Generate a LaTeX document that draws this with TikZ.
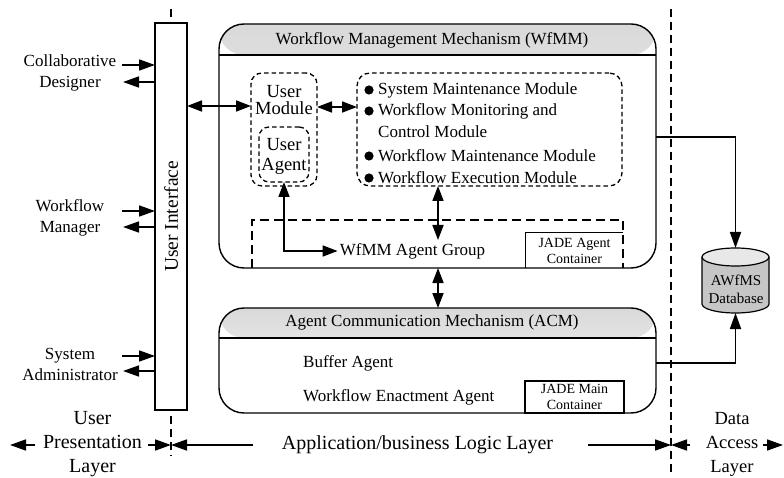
\documentclass[tikz,border=0pt]{standalone}
\usepackage{fontspec}
\setmainfont{Liberation Serif}
\usetikzlibrary{arrows.meta}
\begin{document}
\begin{tikzpicture}[x=1pt,y=-1pt,
  box/.style={draw, line width=1.4pt, outer sep=0pt, inner sep=0pt},
  dbox/.style={draw, line width=1.3pt, dash pattern=on 4.5pt off 3pt, rounded corners=11pt, outer sep=0pt, inner sep=0pt},
  agdash/.style={line width=1.4pt, dash pattern=on 9pt off 5pt},
  sepline/.style={line width=1.2pt, dash pattern=on 8pt off 5pt},
  arr/.style={line width=1.7pt, -{Triangle[length=16pt,width=11pt]}},
  darr/.style={line width=1.7pt, {Triangle[length=15pt,width=11pt]}-{Triangle[length=15pt,width=11pt]}},
  lbl/.style={align=center, font=\fontsize{17}{21}\selectfont, inner sep=0pt},
  txt/.style={font=\fontsize{17}{20}\selectfont, inner sep=0pt},
  small/.style={font=\fontsize{14}{16}\selectfont, align=center, inner sep=0pt},
  lay/.style={align=center, font=\fontsize{20}{24}\selectfont, inner sep=0pt},
  titleshade/.style={path picture={\shade[top color=gray!30, bottom color=white]
      (path picture bounding box.north west) rectangle ([yshift=-#1]path picture bounding box.north east);}}
]
\useasboundingbox (0,0) rectangle (784,478);

% ---------- User Interface ----------
\node[box, minimum width=32pt, minimum height=387pt] (ui) at (171,216.5) {};
\node[rotate=90, font=\fontsize{19.5}{22}\selectfont, inner sep=0pt] (uit) at (ui.center) {User Interface};

% ---------- left actors ----------
\node[lbl] (cd) at (70,72.5) {Collaborative\\Designer};
\node[lbl] (wm) at (70,218) {Workflow\\Manager};
\node[lbl] (sa) at (70,364) {System\\Administrator};

\coordinate (cdi) at (122,65);  \coordinate (cdo) at (123,82);
\coordinate (wmi) at (122,211); \coordinate (wmo) at (123,227);
\coordinate (sai) at (122,356); \coordinate (sao) at (123,371);
\draw[arr] (cdi) -- (cdi -| ui.west);
\draw[arr] (cdo -| ui.west) -- (cdo);
\draw[arr] (wmi) -- (wmi -| ui.west);
\draw[arr] (wmo -| ui.west) -- (wmo);
\draw[arr] (sai) -- (sai -| ui.west);
\draw[arr] (sao -| ui.west) -- (sao);

% ---------- WfMM ----------
\node[box, rounded corners=25pt, minimum width=437pt, minimum height=244pt, titleshade=31pt] (wf) at (437.5,146) {};
\draw[line width=1.4pt] ([yshift=-31pt]wf.north west) -- ([yshift=-31pt]wf.north east);
\node[txt] (wft) at (432,40) {Workflow Management Mechanism (WfMM)};

\node[dbox, minimum width=66pt, minimum height=113pt] (um) at (284,129.5) {};
\node[lbl, font=\fontsize{18.5}{17.5}\selectfont] (umt) at (284,100) {User\\Module};
\node[dbox, minimum width=50pt, minimum height=55pt, rounded corners=10pt] (ua) at (284,154.5) {};
\node[lbl, font=\fontsize{18.5}{19.5}\selectfont] (uat) at (284,156.5) {User\\Agent};

\node[dbox, minimum width=265pt, minimum height=113pt, rounded corners=13pt] (mods) at (489.5,129.5) {};
\foreach \yy in {90,111,156,178} {\fill (369,\yy) circle (4.6pt);}
\node[txt, anchor=west] (m1) at (378,90) {System Maintenance Module};
\node[txt, anchor=west] (m2) at (378,111) {Workflow Monitoring and};
\node[txt, anchor=west] (m3) at (378,132) {Control Module};
\node[txt, anchor=west] (m4) at (378,156) {Workflow Maintenance Module};
\node[txt, anchor=west] (m5) at (378,178) {Workflow Execution Module};

\coordinate (y106) at (0,106);
\draw[darr] (ui.east |- y106) -- (um.west |- y106);
\coordinate (y107) at (0,107);
\draw[darr] (um.east |- y107) -- (mods.west |- y107);

% agent group
\node[minimum width=371pt, minimum height=48pt, inner sep=0pt, outer sep=0pt] (agbox) at (437.5,244) {};
\draw[agdash] (agbox.south west) -- (agbox.north west) -- (agbox.north east) -- (agbox.south east);
\node[font=\fontsize{17}{19}\selectfont, inner sep=2pt] (ag) at (412.5,251) {WfMM Agent Group};
\draw[darr] (ua.south) |- (ag.west);
\coordinate (agtop) at (438,240);
\draw[darr] (mods.south -| agtop) -- (agtop);

\node[small, minimum width=97pt, minimum height=35pt] (jac) at (574.5,250.5) {JADE Agent\\Container};
\draw[line width=1.2pt] (jac.south west) -- (jac.north west) -- (jac.north east);

% ---------- ACM ----------
\node[box, rounded corners=25pt, minimum width=437pt, minimum height=105pt, titleshade=30pt] (acm) at (437.5,360.5) {};
\draw[line width=1.4pt] ([yshift=-30pt]acm.north west) -- ([yshift=-30pt]acm.north east);
\node[txt] (acmt) at (432,322) {Agent Communication Mechanism (ACM)};
\node[txt, anchor=west] (ba) at (303,363) {Buffer Agent};
\node[txt, anchor=west] (wea) at (303,397) {Workflow Enactment Agent};
\node[small, draw, line width=1.2pt, minimum width=99pt, minimum height=32pt] (jmc) at (574.5,397) {JADE Main\\Container};

\draw[darr] (wf.south -| agtop) -- (acm.north -| agtop);

% ---------- Database (cylinder drawn around node db) ----------
\node[minimum width=67pt, minimum height=65pt, inner sep=0pt, outer sep=0pt] (db) at (735.5,280.5) {};
\fill[gray!45] (702,257) -- (702,304) arc[start angle=180, end angle=360, x radius=33.5pt, y radius=9pt] -- (769,257) -- cycle;
\draw[line width=1.2pt] (702,257) -- (702,304) arc[start angle=180, end angle=360, x radius=33.5pt, y radius=9pt] -- (769,257);
\filldraw[fill=gray!18, line width=1.2pt] (735.5,257) ellipse [x radius=33.5pt, y radius=9pt];
\node[small, font=\fontsize{15}{18}\selectfont] (dbt) at (736,289) {AWfMS\\Database};

\coordinate (y137) at (0,137);
\draw[arr] (wf.east |- y137) -| (db.north);
\coordinate (y363) at (0,363);
\draw[arr] (acm.east |- y363) -| (db.south);

% ---------- layer dividers ----------
\coordinate (d1a) at (171,9);   \coordinate (d1b) at (171,18);
\coordinate (d1c) at (171,416); \coordinate (d1d) at (171,456);
\coordinate (d2a) at (671,9);   \coordinate (d2b) at (671,472);
\draw[sepline] (d1a) -- (d1b);
\draw[sepline] (d1c) -- (d1d);
\draw[sepline] (d2a) -- (d2b);

% ---------- layer labels ----------
\node[lay] (upl) at (92.5,444) {User\\Presentation\\Layer};
\node[lay] (apl) at (417.5,445) {Application/business Logic Layer};
\node[lay, font=\fontsize{18.5}{24}\selectfont] (dal) at (732,444) {Data\\Access\\Layer};

\coordinate (L0) at (10,445);  \coordinate (L0t) at (35,445);
\coordinate (L1) at (171,445); \coordinate (L1a) at (148,445); \coordinate (L1b) at (253,445);
\coordinate (L2) at (671,445); \coordinate (L2a) at (588,445); \coordinate (L2b) at (690,445);
\coordinate (L3) at (783,445); \coordinate (L3t) at (763,445);
\draw[arr] (L0t) -- (L0);
\draw[arr] (L1a) -- (L1);
\draw[arr] (L1b) -- (L1);
\draw[arr] (L2a) -- (L2);
\draw[arr] (L2b) -- (L2);
\draw[arr] (L3t) -- (L3);
\end{tikzpicture}
\end{document}
